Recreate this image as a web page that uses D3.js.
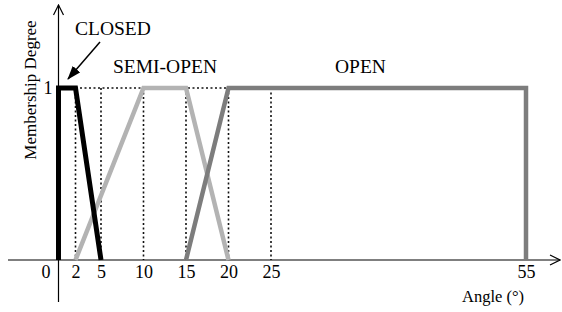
<!DOCTYPE html>
<html>
<head>
<meta charset="utf-8">
<script src="https://cdn.jsdelivr.net/npm/d3@7"></script>
<style>
  body { margin: 0; background: #fff; }
  svg text { font-family: "Liberation Serif", "Times New Roman", serif; fill: #000; }
</style>
</head>
<body>
<svg id="chart" width="562" height="312"></svg>
<script>
// membership functions: [angle, degree]
const closedPts = [[0, 0], [0, 1], [2, 1], [5, 0]];
const semiOpenPts = [[2, 0], [10, 1], [15, 1], [20, 0]];
const openPts = [[15, 0], [20, 1], [55, 1], [55, 0]];

const tickValues = [0, 2, 5, 10, 15, 20, 25, 55];
const guideValues = [2, 5, 10, 15, 20, 25];

const svg = d3.select("#chart");

let x = d3.scaleLinear().domain([0, 55]).range([58.5, 526]);
let y = d3.scaleLinear().domain([0, 1]).range([260, 88]);

// arrow markers for the axes
let defs = svg.append("defs");
defs.append("marker")
    .attr("id", "openArrow")
    .attr("viewBox", "0 0 12 12")
    .attr("refX", 11).attr("refY", 6)
    .attr("markerWidth", 12).attr("markerHeight", 12)
    .attr("markerUnits", "userSpaceOnUse")
    .attr("orient", "auto")
    .append("path")
    .attr("d", "M1,1 L11,6 L1,11")
    .attr("fill", "none")
    .attr("stroke", "#000")
    .attr("stroke-width", 1.2);
defs.append("marker")
    .attr("id", "solidArrow")
    .attr("viewBox", "0 0 14 10")
    .attr("refX", 13).attr("refY", 5)
    .attr("markerWidth", 14).attr("markerHeight", 10)
    .attr("markerUnits", "userSpaceOnUse")
    .attr("orient", "auto")
    .append("path")
    .attr("d", "M0,0 L14,5 L0,10 Z")
    .attr("fill", "#000");

// dotted guides
let guides = svg.append("g").attr("class", "guides")
    .attr("stroke", "#111")
    .attr("stroke-width", 1.6)
    .attr("stroke-dasharray", "2,2.5");

guides.selectAll("line.v")
    .data(guideValues)
    .enter().append("line")
    .attr("class", "v")
    .attr("x1", d => x(d)).attr("x2", d => x(d))
    .attr("y1", y(1)).attr("y2", y(0));

guides.append("line")
    .attr("x1", x(2)).attr("x2", x(20))
    .attr("y1", y(1)).attr("y2", y(1));

// axes
svg.append("line")
    .attr("x1", 8).attr("x2", 560)
    .attr("y1", y(0)).attr("y2", y(0))
    .attr("stroke", "#000").attr("stroke-width", 1.2)
    .attr("marker-end", "url(#openArrow)");

svg.append("line")
    .attr("x1", x(0)).attr("x2", x(0))
    .attr("y1", 302).attr("y2", 5)
    .attr("stroke", "#000").attr("stroke-width", 1.2)
    .attr("marker-end", "url(#openArrow)");

let xAxis = d3.axisBottom(x).tickValues(tickValues).tickSize(0).tickPadding(5)
    .tickFormat(d3.format("d"));
let xAxisG = svg.append("g")
    .attr("transform", "translate(0," + y(0) + ")")
    .call(xAxis);
xAxisG.select(".domain").remove();
xAxisG.selectAll("text")
    .style("font-size", "18px")
    .attr("dx", d => d === 0 ? -13 : 0);

let yAxis = d3.axisLeft(y).tickValues([1]).tickSize(0).tickPadding(6)
    .tickFormat(d3.format("d"));
let yAxisG = svg.append("g")
    .attr("transform", "translate(" + x(0) + ",0)")
    .call(yAxis);
yAxisG.select(".domain").remove();
yAxisG.selectAll("text")
    .style("font-size", "18px");

// membership lines
let line = d3.line().x(d => x(d[0])).y(d => y(d[1]));

svg.append("path").datum(semiOpenPts)
    .attr("d", line)
    .attr("fill", "none")
    .attr("stroke", "#b3b3b3")
    .attr("stroke-width", 4.5);

svg.append("path").datum(openPts)
    .attr("d", line)
    .attr("fill", "none")
    .attr("stroke", "#7d7d7d")
    .attr("stroke-width", 4.5);

svg.append("path").datum(closedPts)
    .attr("d", line)
    .attr("fill", "none")
    .attr("stroke", "#000")
    .attr("stroke-width", 5)
    .attr("stroke-linejoin", "miter");

// labels
svg.append("text")
    .attr("x", 75).attr("y", 35)
    .style("font-size", "19.5px")
    .text("CLOSED");

svg.append("line")
    .attr("x1", 100).attr("y1", 42)
    .attr("x2", 68).attr("y2", 79)
    .attr("stroke", "#000").attr("stroke-width", 1.5)
    .attr("marker-end", "url(#solidArrow)");

svg.append("text")
    .attr("x", 113).attr("y", 73)
    .style("font-size", "19.5px")
    .text("SEMI-OPEN");

svg.append("text")
    .attr("x", 335).attr("y", 73)
    .style("font-size", "19.5px")
    .text("OPEN");

svg.append("text")
    .attr("transform", "translate(36,90) rotate(-90)")
    .attr("text-anchor", "middle")
    .style("font-size", "17px")
    .text("Membership Degree");

svg.append("text")
    .attr("x", 462).attr("y", 302)
    .style("font-size", "16.5px")
    .text("Angle (°)");
</script>
</body>
</html>
